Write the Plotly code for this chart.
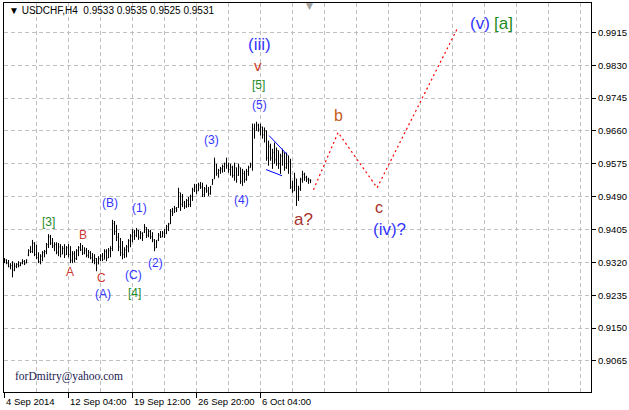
import plotly.graph_objects as go

# ---------------- data ----------------
bar_index = list(range(154))
opens = [0.9322,0.9326,0.9318,0.9310,0.9312,0.9300,0.9310,0.9315,0.9312,0.9318,
         0.9322,0.9318,0.9338,0.9350,0.9348,0.9370,0.9340,0.9332,0.9322,0.9336,
         0.9345,0.9348,0.9366,0.9386,0.9370,0.9362,0.9366,0.9346,0.9360,0.9342,
         0.9356,0.9340,0.9358,0.9340,0.9325,0.9342,0.9330,0.9350,0.9358,0.9352,
         0.9344,0.9350,0.9338,0.9345,0.9332,0.9325,0.9330,0.9316,0.9330,0.9336,
         0.9328,0.9348,0.9332,0.9350,0.9356,0.9420,0.9400,0.9385,0.9360,0.9345,
         0.9340,0.9352,0.9360,0.9376,0.9388,0.9398,0.9390,0.9402,0.9385,0.9395,
         0.9398,0.9410,0.9390,0.9400,0.9386,0.9378,0.9358,0.9378,0.9390,0.9386,
         0.9396,0.9395,0.9412,0.9420,0.9452,0.9450,0.9460,0.9462,0.9500,0.9470,
         0.9475,0.9465,0.9480,0.9470,0.9490,0.9508,0.9515,0.9505,0.9520,0.9515,
         0.9495,0.9510,0.9505,0.9498,0.9521,0.9536,0.9572,0.9550,0.9558,0.9562,
         0.9568,0.9575,0.9570,0.9560,0.9566,0.9545,0.9565,0.9545,0.9565,0.9530,
         0.9550,0.9535,0.9555,0.9565,0.9572,0.9665,0.9661,0.9675,0.9665,0.9670,
         0.9650,0.9660,0.9590,0.9620,0.9590,0.9605,0.9585,0.9609,0.9575,0.9595,
         0.9604,0.9565,0.9596,0.9580,0.9515,0.9505,0.9536,0.9490,0.9510,0.9535,
         0.9548,0.9540,0.9535,0.9533]
highs = [0.9331,0.9328,0.9326,0.9318,0.9323,0.9318,0.9318,0.9323,0.9320,0.9328,
         0.9326,0.9328,0.9354,0.9362,0.9378,0.9372,0.9365,0.9346,0.9341,0.9349,
         0.9352,0.9370,0.9393,0.9391,0.9383,0.9372,0.9372,0.9370,0.9367,0.9362,
         0.9367,0.9362,0.9367,0.9362,0.9349,0.9349,0.9354,0.9362,0.9370,0.9365,
         0.9359,0.9357,0.9352,0.9349,0.9344,0.9341,0.9331,0.9336,0.9341,0.9344,
         0.9354,0.9354,0.9357,0.9362,0.9430,0.9427,0.9417,0.9396,0.9383,0.9375,
         0.9359,0.9365,0.9380,0.9393,0.9406,0.9404,0.9409,0.9404,0.9401,0.9398,
         0.9419,0.9411,0.9406,0.9404,0.9398,0.9380,0.9378,0.9396,0.9401,0.9401,
         0.9406,0.9417,0.9422,0.9458,0.9461,0.9466,0.9463,0.9513,0.9500,0.9497,
         0.9479,0.9484,0.9489,0.9495,0.9513,0.9523,0.9523,0.9526,0.9528,0.9526,
         0.9515,0.9521,0.9515,0.9518,0.9536,0.9591,0.9575,0.9562,0.9567,0.9573,
         0.9578,0.9591,0.9578,0.9575,0.9570,0.9578,0.9565,0.9575,0.9565,0.9562,
         0.9557,0.9562,0.9570,0.9578,0.9679,0.9679,0.9684,0.9679,0.9679,0.9671,
         0.9669,0.9661,0.9635,0.9627,0.9614,0.9630,0.9617,0.9609,0.9601,0.9614,
         0.9604,0.9604,0.9596,0.9588,0.9531,0.9552,0.9536,0.9518,0.9539,0.9557,
         0.9552,0.9544,0.9539,0.9535]
lows = [0.9318,0.9315,0.9307,0.9302,0.9281,0.9297,0.9305,0.9307,0.9310,0.9315,
        0.9313,0.9318,0.9336,0.9344,0.9344,0.9336,0.9328,0.9318,0.9315,0.9323,
        0.9333,0.9341,0.9357,0.9365,0.9357,0.9349,0.9341,0.9336,0.9333,0.9341,
        0.9331,0.9339,0.9333,0.9318,0.9318,0.9320,0.9326,0.9336,0.9349,0.9339,
        0.9341,0.9333,0.9331,0.9328,0.9318,0.9315,0.9297,0.9315,0.9323,0.9323,
        0.9328,0.9323,0.9331,0.9333,0.9349,0.9391,0.9375,0.9349,0.9336,0.9328,
        0.9331,0.9333,0.9346,0.9359,0.9372,0.9378,0.9385,0.9378,0.9380,0.9375,
        0.9396,0.9383,0.9385,0.9380,0.9372,0.9349,0.9357,0.9375,0.9383,0.9385,
        0.9383,0.9393,0.9401,0.9419,0.9440,0.9448,0.9450,0.9461,0.9453,0.9463,
        0.9458,0.9461,0.9463,0.9463,0.9479,0.9502,0.9497,0.9505,0.9510,0.9489,
        0.9489,0.9500,0.9492,0.9495,0.9521,0.9536,0.9544,0.9539,0.9549,0.9552,
        0.9554,0.9562,0.9552,0.9544,0.9539,0.9531,0.9526,0.9544,0.9523,0.9518,
        0.9526,0.9531,0.9544,0.9565,0.9557,0.9640,0.9661,0.9658,0.9648,0.9640,
        0.9630,0.9583,0.9570,0.9583,0.9562,0.9575,0.9570,0.9562,0.9549,0.9570,
        0.9557,0.9562,0.9549,0.9510,0.9500,0.9505,0.9466,0.9479,0.9505,0.9526,
        0.9531,0.9528,0.9523,0.9525]
closes = [0.9326,0.9318,0.9310,0.9312,0.9300,0.9310,0.9315,0.9312,0.9318,0.9322,
          0.9316,0.9326,0.9350,0.9348,0.9370,0.9340,0.9332,0.9322,0.9336,0.9345,
          0.9348,0.9366,0.9386,0.9370,0.9362,0.9366,0.9346,0.9360,0.9340,0.9356,
          0.9338,0.9358,0.9340,0.9325,0.9342,0.9330,0.9350,0.9358,0.9352,0.9344,
          0.9350,0.9338,0.9345,0.9332,0.9325,0.9330,0.9305,0.9330,0.9336,0.9328,
          0.9348,0.9330,0.9350,0.9356,0.9420,0.9400,0.9385,0.9360,0.9345,0.9340,
          0.9352,0.9360,0.9376,0.9388,0.9398,0.9390,0.9402,0.9385,0.9395,0.9390,
          0.9412,0.9390,0.9400,0.9386,0.9378,0.9355,0.9372,0.9390,0.9386,0.9396,
          0.9390,0.9412,0.9418,0.9452,0.9446,0.9460,0.9456,0.9500,0.9470,0.9490,
          0.9465,0.9480,0.9470,0.9490,0.9508,0.9515,0.9505,0.9520,0.9515,0.9495,
          0.9510,0.9505,0.9498,0.9515,0.9532,0.9580,0.9550,0.9558,0.9562,0.9568,
          0.9575,0.9570,0.9560,0.9566,0.9545,0.9570,0.9535,0.9568,0.9530,0.9550,
          0.9535,0.9555,0.9565,0.9572,0.9665,0.9660,0.9675,0.9665,0.9670,0.9650,
          0.9660,0.9590,0.9620,0.9590,0.9605,0.9585,0.9610,0.9575,0.9595,0.9605,
          0.9565,0.9598,0.9580,0.9515,0.9505,0.9540,0.9490,0.9510,0.9535,0.9548,
          0.9540,0.9535,0.9533,0.9531]

# projected wave path (bar index, price)
proj_x = [154.5, 166.8, 186.3, 226.3]
proj_y = [0.9508, 0.9656, 0.9513, 0.9924]

# triangle (contracting) lines
tri_upper_x = [132.3, 141.3]
tri_upper_y = [0.9648, 0.9599]
tri_lower_x = [130.8, 138.8]
tri_lower_y = [0.9560, 0.9544]

# wave labels
label_text = ["(iii)", "v", "[5]", "(5)", "(3)", "(4)", "a?", "b", "c", "(iv)?",
              "(v)", "[a]", "[3]", "B", "A", "C", "(A)", "(C)", "[4]", "(B)", "(1)", "(2)"]
label_x = [127.3, 126.8, 127.0, 127.3, 103.3, 118.3, 149.3, 166.8, 187.3, 192.3,
           237.8, 249.3, 21.8, 39.3, 32.5, 48.5, 49.3, 64.3, 64.8, 52.8, 67.3, 75.3]
label_y = [0.9884, 0.9830, 0.9778, 0.9728, 0.9637, 0.9482, 0.9432, 0.9700, 0.9463, 0.9406,
           0.9939, 0.9939, 0.9424, 0.9391, 0.9296, 0.9279, 0.9237, 0.9287, 0.9240, 0.9474, 0.9461, 0.9318]

# axis
price_ticks = [0.9065, 0.9150, 0.9235, 0.9320, 0.9405, 0.9490, 0.9575, 0.9660, 0.9745, 0.9830, 0.9915]
time_tick_idx = [0, 32, 64, 96, 128]
time_tick_text = ["4 Sep 2014", "12 Sep 04:00", "19 Sep 12:00", "26 Sep 20:00", "6 Oct 04:00"]

title_text = "USDCHF,H4  0.9533 0.9535 0.9525 0.9531"
signature = "forDmitry@yahoo.com"

# ---------------- styles ----------------
BLUE = "#3535ff"
GREEN = "#1f8a1f"
RED = "#cc3a33"
BROWN = "#a8302a"
ORANGE = "#c4601f"
label_color = [BLUE, "#cc3a22", GREEN, BLUE, BLUE, BLUE, BROWN, ORANGE, BROWN, BLUE,
               BLUE, GREEN, GREEN, RED, RED, RED, BLUE, BLUE, GREEN, BLUE, BLUE, BLUE]
label_size = [17, 15, 12, 12, 12, 12, 17, 16, 16, 17,
              17, 17, 12, 12, 12, 12, 12, 12, 12, 12, 12, 12]

FONT = "Liberation Sans, Arial, sans-serif"

fig = go.Figure()
fig.add_trace(go.Ohlc(
    x=bar_index, open=opens, high=highs, low=lows, close=closes,
    increasing=dict(line=dict(color="black", width=1)),
    decreasing=dict(line=dict(color="black", width=1)),
    tickwidth=0.35, showlegend=False, hoverinfo="skip"))

fig.add_trace(go.Scatter(x=proj_x, y=proj_y, mode="lines",
                         line=dict(color="#ff0000", width=1.2, dash="2px,3px"),
                         showlegend=False, hoverinfo="skip"))
fig.add_trace(go.Scatter(x=tri_upper_x, y=tri_upper_y, mode="lines",
                         line=dict(color="#0000ff", width=1), showlegend=False, hoverinfo="skip"))
fig.add_trace(go.Scatter(x=tri_lower_x, y=tri_lower_y, mode="lines",
                         line=dict(color="#0000ff", width=1), showlegend=False, hoverinfo="skip"))

annotations = []
for t, x, y, c, s in zip(label_text, label_x, label_y, label_color, label_size):
    annotations.append(dict(x=x, y=y, xref="x", yref="y", text=t, showarrow=False,
                            font=dict(family=FONT, size=s, color=c),
                            xanchor="center", yanchor="middle"))

for idx, txt in zip(time_tick_idx, time_tick_text):
    annotations.append(dict(x=idx, y=0, xref="x", yref="paper", text=txt, showarrow=False,
                            font=dict(family=FONT, size=9.5, color="black"),
                            xanchor="left", yanchor="top", xshift=-1, yshift=-2))

annotations.append(dict(x=0.005, y=0.982, xref="paper", yref="paper",
                        text="▼ " + title_text, showarrow=False,
                        font=dict(family=FONT, size=10, color="black"),
                        xanchor="left", yanchor="middle"))
annotations.append(dict(x=0.5196, y=0.993, xref="paper", yref="paper",
                        text="▼", showarrow=False,
                        font=dict(family="DejaVu Sans", size=9, color="#a0a0a0"),
                        xanchor="center", yanchor="middle"))
annotations.append(dict(x=0.016, y=0.041, xref="paper", yref="paper",
                        text=signature, showarrow=False,
                        font=dict(family="Liberation Serif, Times New Roman, serif", size=11.5, color="#1a1a50"),
                        xanchor="left", yanchor="middle"))

GRID = "#c0c0c0"
fig.update_layout(
    width=629, height=410,
    margin=dict(l=4, r=38, t=3, b=18),
    paper_bgcolor="white", plot_bgcolor="white",
    showlegend=False,
    annotations=annotations,
    xaxis=dict(range=[-0.25, 293.25], rangeslider=dict(visible=False),
               tickmode="array", tickvals=time_tick_idx, ticktext=[""] * len(time_tick_idx),
               showticklabels=False, ticks="outside", ticklen=5, tickcolor="black",
               showgrid=True, gridcolor=GRID, griddash="4px,3px", gridwidth=1,
               minor=dict(tick0=0, dtick=16, showgrid=True, gridcolor=GRID,
                          griddash="4px,3px", gridwidth=1, ticks=""),
               showline=True, linecolor="black", linewidth=1, mirror=True,
               zeroline=False, fixedrange=True),
    yaxis=dict(range=[0.89844, 0.99912], side="right",
               tickmode="array", tickvals=price_ticks,
               ticktext=["%.4f" % v for v in price_ticks],
               ticks="outside", ticklen=4, tickcolor="black",
               tickfont=dict(family=FONT, size=9.5, color="black"),
               showgrid=True, gridcolor=GRID, griddash="4px,3px", gridwidth=1,
               showline=True, linecolor="black", linewidth=1, mirror=True,
               zeroline=False, fixedrange=True),
)

fig.write_html("out.html", config={"displayModeBar": False},
               post_script="document.body.style.margin='0';document.body.style.overflow='hidden';")
